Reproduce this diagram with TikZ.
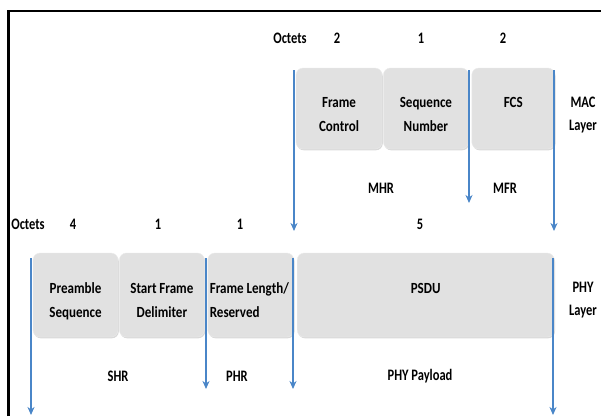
\documentclass[tikz,border=0pt]{standalone}
\usepackage{fontspec}
\setmainfont{Carlito}[FakeStretch=0.84]
\newfontfamily\narrowfont{Carlito}[FakeStretch=0.78]
\usetikzlibrary{positioning,arrows.meta,shadows}
\definecolor{arrowblue}{RGB}{74,134,200}
\definecolor{fieldgray}{RGB}{225,225,225}

\begin{document}
\begin{tikzpicture}[x=1pt,y=-1pt,
        field/.style={fill=fieldgray, draw=black!8, rounded corners=7pt,
            minimum width=#1, minimum height=81pt, inner sep=0pt,
            drop shadow={shadow xshift=0.8pt, shadow yshift=-1.3pt, opacity=0.3}},
        field/.default=85pt,
        lbl/.style={font=\narrowfont\fontsize{16}{18}\selectfont\bfseries, inner sep=0pt},
        layer/.style={lbl, font=\narrowfont\fontsize{16}{23}\selectfont\bfseries, align=center},
        txt/.style={inner sep=0pt, font=\fontsize{15.5}{24}\selectfont\bfseries, align=center},
        bound/.style={-{Stealth[length=8pt,width=7pt,inset=2.5pt]}, draw=arrowblue, line width=1.8pt}]
    \useasboundingbox (0,0) rectangle (601,416);
    \draw[line width=2.5pt] (8.5,416) -- (8.5,11) -- (601,11);

    % MAC layer fields
    \node[field=86pt] (fc) at (339,108.5) {};
    \node[field, right=1pt of fc] (sn) {};
    \node[field=83pt, right=3pt of sn] (fcs) {};
    \node[txt, below=29pt of fc.north] (fctxt) {Frame\\Control};
    \node[txt, below=29pt of sn.north] (sntxt) {Sequence\\Number};
    \node[txt, below=29pt of fcs.north] (fcstxt) {FCS};
    \node[layer, anchor=north] (mac) at (583,97) {MAC\\Layer};

    \node[lbl] (octa) at (290,38) {Octets};
    \node[lbl] (octa1) at (337,38) {2};
    \node[lbl] (octa2) at (421,38) {1};
    \node[lbl] (octa3) at (503,38) {2};

    \coordinate (m0) at (294,70);   \coordinate (m1) at (294,231);
    \coordinate (m2) at (469,70);   \coordinate (m3) at (469,203);
    \coordinate (m4) at (554,70);   \coordinate (m5) at (554,231);
    \draw[bound] (m0) -- (m1);
    \draw[bound] (m2) -- (m3);
    \draw[bound] (m4) -- (m5);
    \node[lbl] (mhr) at (381,188) {MHR};
    \node[lbl] (mfr) at (505,188) {MFR};

    % PHY layer fields
    \node[field, minimum height=84pt] (pre) at (75.5,295) {};
    \node[field, minimum height=84pt, right=1pt of pre] (sfd) {};
    \node[field=86pt, minimum height=84pt, right=3pt of sfd] (flr) {};
    \node[field=257pt, minimum height=84pt, right=3pt of flr] (psdu) {};
    \node[txt, below=30pt of pre.north] (pretxt) {Preamble\\Sequence};
    \node[txt, below=30pt of sfd.north] (sfdtxt) {Start Frame\\Delimiter};
    \node[txt, align=left, below right=30pt and 2pt of flr.north west] (flrtxt) {Frame Length/\\Reserved};
    \node[txt, below=30pt of psdu.north] (psdutxt) {PSDU};
    \node[layer, anchor=north] (phy) at (583,282) {PHY\\Layer};

    \node[lbl] (octb) at (28,224) {Octets};
    \node[lbl] (octb1) at (73,224) {4};
    \node[lbl] (octb2) at (158,224) {1};
    \node[lbl] (octb3) at (240,224) {1};
    \node[lbl] (octb4) at (420,224) {5};

    \coordinate (p0) at (31,258);  \coordinate (p1) at (31,415);
    \coordinate (p2) at (206,258); \coordinate (p3) at (206,389);
    \coordinate (p4) at (293,258); \coordinate (p5) at (293,389);
    \coordinate (p6) at (553,258); \coordinate (p7) at (553,415);
    \draw[bound] (p0) -- (p1);
    \draw[bound] (p2) -- (p3);
    \draw[bound] (p4) -- (p5);
    \draw[bound] (p6) -- (p7);
    \node[lbl] (shr) at (118,376) {SHR};
    \node[lbl] (phr) at (237,376) {PHR};
    \node[lbl] (payload) at (420,376) {PHY Payload};
\end{tikzpicture}
\end{document}
